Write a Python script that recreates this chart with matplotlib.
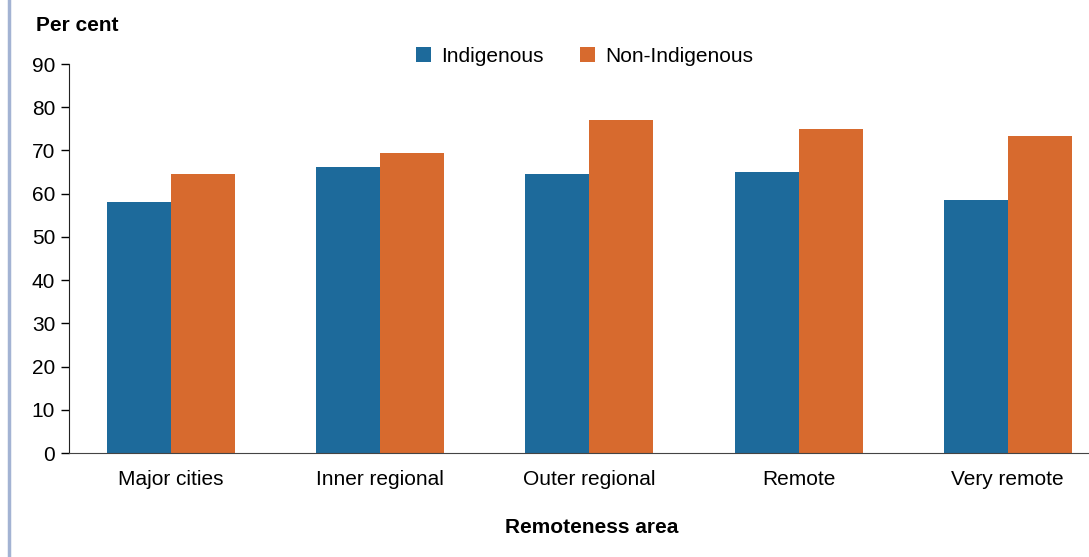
import numpy as np
import matplotlib.pyplot as plt
from matplotlib.lines import Line2D

plt.rcParams['font.family'] = ['Liberation Sans', 'DejaVu Sans']

areas = ['Major cities', 'Inner regional', 'Outer regional', 'Remote', 'Very remote']
indigenous = [58.1, 66.2, 64.6, 65.0, 58.5]
non_indigenous = [64.6, 69.4, 77.0, 75.0, 73.3]
yticks = [0, 10, 20, 30, 40, 50, 60, 70, 80, 90]

blue = '#1d6a9b'
orange = '#d76a2e'

fig = plt.figure(figsize=(10.89, 5.57), dpi=100)
ax = fig.add_axes([0.0634, 0.1867, 0.958, 0.6983])

x = np.arange(len(areas))
w = 0.306
ax.bar(x - w / 2, indigenous, w, color=blue, label='Indigenous')
ax.bar(x + w / 2, non_indigenous, w, color=orange, label='Non-Indigenous')

ax.set_xlim(-0.488, len(areas) - 0.5)
ax.set_ylim(0, 90)
ax.set_yticks(yticks)
ax.set_xticks(x)
ax.set_xticklabels(areas)
ax.tick_params(axis='x', length=0, pad=12, labelsize=15)
ax.tick_params(axis='y', length=6, width=1, pad=4, labelsize=15)
for s in ['top', 'right']:
    ax.spines[s].set_visible(False)
ax.spines['left'].set_color('#222222')
ax.spines['bottom'].set_color('#444444')

fig.text(0.033, 0.955, 'Per cent', fontsize=15, fontweight='bold', va='center')
fig.text(0.543, 0.053, 'Remoteness area', fontsize=15, fontweight='bold',
         ha='center', va='center')

ax.legend(loc='center', bbox_to_anchor=(0.494, 1.02), ncol=2, frameon=False,
          fontsize=15, handlelength=0.72, handleheight=0.72, columnspacing=1.75,
          handletextpad=0.5)

# grey frame line on the left edge
fig.add_artist(Line2D([0.0083, 0.0083], [0, 1], color='#a3b3d3', lw=2.5))

fig.savefig('out.png', dpi=100)
